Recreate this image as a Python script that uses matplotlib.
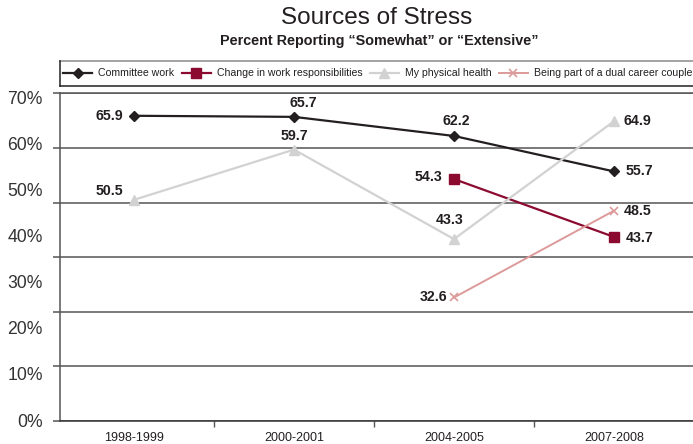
import numpy as np
import matplotlib
matplotlib.use("Agg")
import matplotlib.pyplot as plt
from matplotlib.lines import Line2D

plt.rcParams['font.family'] = ['Liberation Sans', 'DejaVu Sans']

# survey years and percent of faculty reporting each stress source
years = ['1998-1999', '2000-2001', '2004-2005', '2007-2008']
committee = [65.9, 65.7, 62.2, 55.7]
work_change = [np.nan, np.nan, 54.3, 43.7]
health = [50.5, 59.7, 43.3, 64.9]
dual_career = [np.nan, np.nan, 32.6, 48.5]
pct_labels = ['0%', '10%', '20%', '30%', '40%', '50%', '60%', '70%']

TXT = '#231f20'
GRID = '#555555'

W, H = 693, 444
fig = plt.figure(figsize=(W / 100, H / 100), dpi=100)
ax = fig.add_axes([60 / W, 1 - 420.8 / H, 1 - 60 / W, (420.8 - 93.4) / H])

x = np.arange(len(years))
series = [
    ('Committee work', committee, dict(color=TXT, marker='D', ms=5.5, lw=1.6)),
    ('Change in work responsibilities', work_change,
     dict(color='#8c0a2f', marker='s', ms=7.5, lw=1.6)),
    ('My physical health', health,
     dict(color='#d2d2d2', marker='^', ms=7.5, lw=1.6)),
    ('Being part of a dual career couple', dual_career,
     dict(color='#dd9a9a', marker='x', ms=6, mew=1.2, lw=1.4)),
]
for name, vals, st in series:
    ax.plot(x, vals, label=name, zorder=3, **st)

# value labels: (series values, index, dx, dy in points, ha)
label_pos = [
    (committee, 0, -8, 0, 'right'), (committee, 1, 7, 10, 'center'),
    (committee, 2, 1.5, 11, 'center'), (committee, 3, 8, 0, 'left'),
    (work_change, 2, -8.5, 1.5, 'right'), (work_change, 3, 8.5, -0.5, 'left'),
    (health, 0, -8, 6, 'right'), (health, 1, 0, 10, 'center'),
    (health, 2, -3, 13.5, 'center'), (health, 3, 7, 0, 'left'),
    (dual_career, 2, -5, 0.5, 'right'), (dual_career, 3, 7, -0.5, 'left'),
]
for vals, i, dx, dy, ha in label_pos:
    ax.annotate(f'{vals[i]:.1f}', (x[i], vals[i]), xytext=(dx, dy),
                textcoords='offset points', ha=ha, va='center',
                fontsize=10.2, fontweight='bold', color=TXT, zorder=4)

ax.set_xlim(-74 / 160, (W - 134) / 160)
ax.set_ylim(10, 70)
ax.set_yticks(np.arange(10, 71, 10))
ax.set_yticklabels([])
ax.tick_params(axis='y', length=5, width=1.1, color=GRID)
ax.yaxis.grid(True, color=GRID, lw=1.1)
ax.set_axisbelow(True)

ax.set_xticks(x)
ax.set_xticklabels(years, fontsize=9, color=TXT)
ax.tick_params(axis='x', length=0, pad=8)
ax.set_xticks(x[:-1] + 0.5, minor=True)
ax.tick_params(axis='x', which='minor', length=4, width=1, color=GRID)

ax.spines['right'].set_visible(False)
ax.spines['top'].set_color(GRID)
ax.spines['top'].set_linewidth(1.1)
ax.spines['bottom'].set_color('#333333')
ax.spines['bottom'].set_linewidth(1.1)
ax.spines['left'].set_color(GRID)
ax.spines['left'].set_linewidth(1.1)

# percent labels run on their own evenly spaced scale
lab = ax.twinx()
lab.yaxis.tick_left()
frac0 = (420.8 - 420) / (420.8 - 93.4)
frac70 = (420.8 - 97.5) / (420.8 - 93.4)
span = 70 / (frac70 - frac0)
lab.set_ylim(-frac0 * span, -frac0 * span + span)
lab.set_yticks(np.arange(0, 71, 10))
lab.set_yticklabels(pct_labels, fontsize=12.7, color='#333333')
lab.tick_params(axis='y', length=0, pad=12.5)
for s in lab.spines.values():
    s.set_visible(False)

fig.text(377 / W, 1 - 18 / H, 'Sources of Stress', ha='center', va='center',
         fontsize=17.5, color=TXT)
fig.text(379 / W, 1 - 40.5 / H,
         'Percent Reporting \u201cSomewhat\u201d or \u201cExtensive\u201d',
         ha='center', va='center', fontsize=10.4, fontweight='bold', color=TXT)

# legend strip
fig.add_artist(Line2D([59.5 / W, 1.01], [1 - 61 / H] * 2, color='#8a8a8a',
                      lw=1.1, transform=fig.transFigure))
fig.add_artist(Line2D([59.5 / W, 1.01], [1 - 86 / H] * 2, color='#222222',
                      lw=1.1, transform=fig.transFigure))
fig.add_artist(Line2D([59.5 / W] * 2, [1 - 61 / H, 1 - 86 / H],
                      color='#222222', lw=1.1, transform=fig.transFigure))
handles, names = ax.get_legend_handles_labels()
fig.legend(handles, names, loc='center left', ncol=4, frameon=False,
           bbox_to_anchor=(63 / W, 1 - 73.5 / H), fontsize=7.55,
           handlelength=2.8, handletextpad=0.55, columnspacing=0.7,
           borderaxespad=0, borderpad=0, labelcolor=TXT)

fig.savefig('out.png', dpi=100)
